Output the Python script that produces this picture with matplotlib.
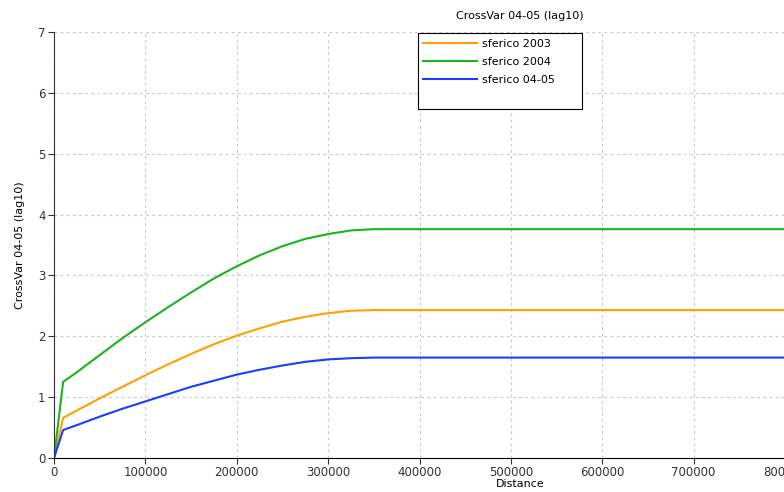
import matplotlib
matplotlib.use("Agg")
import matplotlib.pyplot as plt
from matplotlib.patches import Rectangle

# lag distances and model values
distance = [0, 10000, 25000, 50000, 75000, 100000, 125000, 150000, 175000,
            200000, 225000, 250000, 275000, 300000, 325000, 350000, 800000]
sferico_2003 = [0, 0.66, 0.78, 0.98, 1.17, 1.36, 1.54, 1.71, 1.87,
                2.01, 2.13, 2.24, 2.32, 2.38, 2.42, 2.43, 2.43]
sferico_2004 = [0, 1.25, 1.41, 1.69, 1.97, 2.23, 2.48, 2.72, 2.95,
                3.15, 3.33, 3.48, 3.60, 3.68, 3.74, 3.76, 3.76]
sferico_0405 = [0, 0.46, 0.54, 0.68, 0.81, 0.93, 1.05, 1.17, 1.27,
                1.37, 1.45, 1.52, 1.58, 1.62, 1.64, 1.65, 1.65]

series = [("sferico 2003", sferico_2003, "#FFA000"),
          ("sferico 2004", sferico_2004, "#1CB41C"),
          ("sferico 04-05", sferico_0405, "#1C3CFF")]

plt.rcParams["font.family"] = ["DejaVu Sans"]
plt.rcParams["font.size"] = 8

W, H = 784, 492
fig = plt.figure(figsize=(W / 100, H / 100), dpi=100)
ax = fig.add_axes([54 / W, (H - 458) / H, 731 / W, 426 / H])

for name, vals, col in series:
    ax.plot(distance, vals, color=col, lw=1.5, label=name)

ax.set_xlim(0, 800000)
ax.set_ylim(0, 7)
ax.set_xticks(range(0, 800001, 100000))
ax.set_yticks(range(0, 8))
ax.grid(True, ls=(0, (2.5, 3)), color="#c8c8c8", lw=0.8)
ax.set_axisbelow(True)
for s in ("top", "right"):
    ax.spines[s].set_visible(False)
ax.spines["left"].set_color("#333333")
ax.spines["bottom"].set_color("black")
ax.tick_params(direction="out", length=4, width=0.8, colors="#333333",
               labelsize=8.5, pad=2)

ax.set_xlabel("Distance", fontsize=8, labelpad=0)
ax.xaxis.set_label_coords((520 - 54) / 731, -0.05)
ax.set_ylabel("CrossVar 04-05 (lag10)", fontsize=8)
ax.yaxis.set_label_coords(-(54 - 25) / 731, 0.5)
fig.text(520 / W, 1 - 16 / H, "CrossVar 04-05 (lag10)", ha="center",
         va="center", fontsize=8)

# legend box is drawn by hand: it is taller than its three entries
box = Rectangle((418 / W, 1 - 109 / H), 164 / W, 76 / H,
                transform=fig.transFigure, facecolor="white",
                edgecolor="black", lw=0.8, clip_on=False, zorder=5)
ax.add_patch(box)
leg = ax.legend(loc="upper left", bbox_to_anchor=(423 / W, 1 - 39 / H),
                bbox_transform=fig.transFigure, frameon=False, fontsize=8,
                handlelength=4.9, handletextpad=0.4, borderpad=0,
                labelspacing=0.72, borderaxespad=0)
leg.set_zorder(6)

fig.savefig("out.png", dpi=100)
